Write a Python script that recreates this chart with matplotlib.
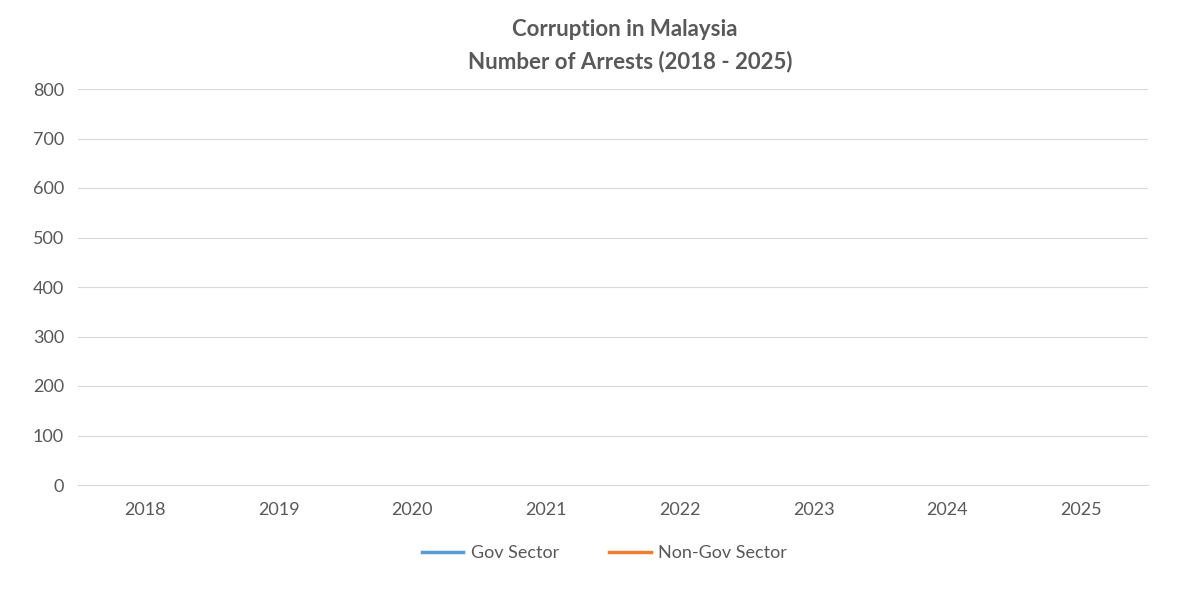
import numpy as np
import matplotlib.pyplot as plt

plt.rcParams['font.family'] = ['Lato', 'DejaVu Sans']

years = ["2018", "2019", "2020", "2021", "2022", "2023", "2024", "2025"]
# the reference shows no plotted values for either series
gov_sector = [None] * len(years)
non_gov_sector = [None] * len(years)

gray = "#595959"
fig = plt.figure(figsize=(11.9, 5.94), dpi=100)
ax = fig.add_axes([78/1190, 1 - 485/594, (1148 - 78)/1190, (485 - 89)/594])

x = np.arange(len(years))
gov = np.array([np.nan if v is None else v for v in gov_sector], dtype=float)
non = np.array([np.nan if v is None else v for v in non_gov_sector], dtype=float)
ax.plot(x, gov, color="#5b9bd5", lw=2.5, label="Gov Sector")
ax.plot(x, non, color="#ed7d31", lw=2.5, label="Non-Gov Sector")

ax.set_xlim(-0.5, len(years) - 0.5)
ax.set_ylim(0, 800)
ax.set_yticks(range(0, 801, 100))
ax.set_xticks(x)
ax.set_xticklabels(years)
ax.grid(axis="y", color="#d9d9d9", lw=0.8)
ax.set_axisbelow(True)
for s in ["top", "right", "left"]:
    ax.spines[s].set_visible(False)
ax.spines["bottom"].set_color("#d9d9d9")
ax.tick_params(axis="both", length=0, labelsize=13, colors=gray)
ax.tick_params(axis="x", pad=12)
ax.tick_params(axis="y", pad=10)

fig.text(0.525, 1 - 30/594, "Corruption in Malaysia", ha="center", va="center",
         fontsize=16, fontweight="bold", color=gray)
fig.text(0.53, 1 - 62/594, "Number of Arrests (2018 - 2025)", ha="center", va="center",
         fontsize=16, fontweight="bold", color=gray)

fig.legend(loc="center", bbox_to_anchor=(0.508, 1 - 553/594), ncol=2, frameon=False,
           fontsize=13, labelcolor=gray, handlelength=2.3, handletextpad=0.4,
           columnspacing=2.8)

fig.savefig("out.png", dpi=100)
